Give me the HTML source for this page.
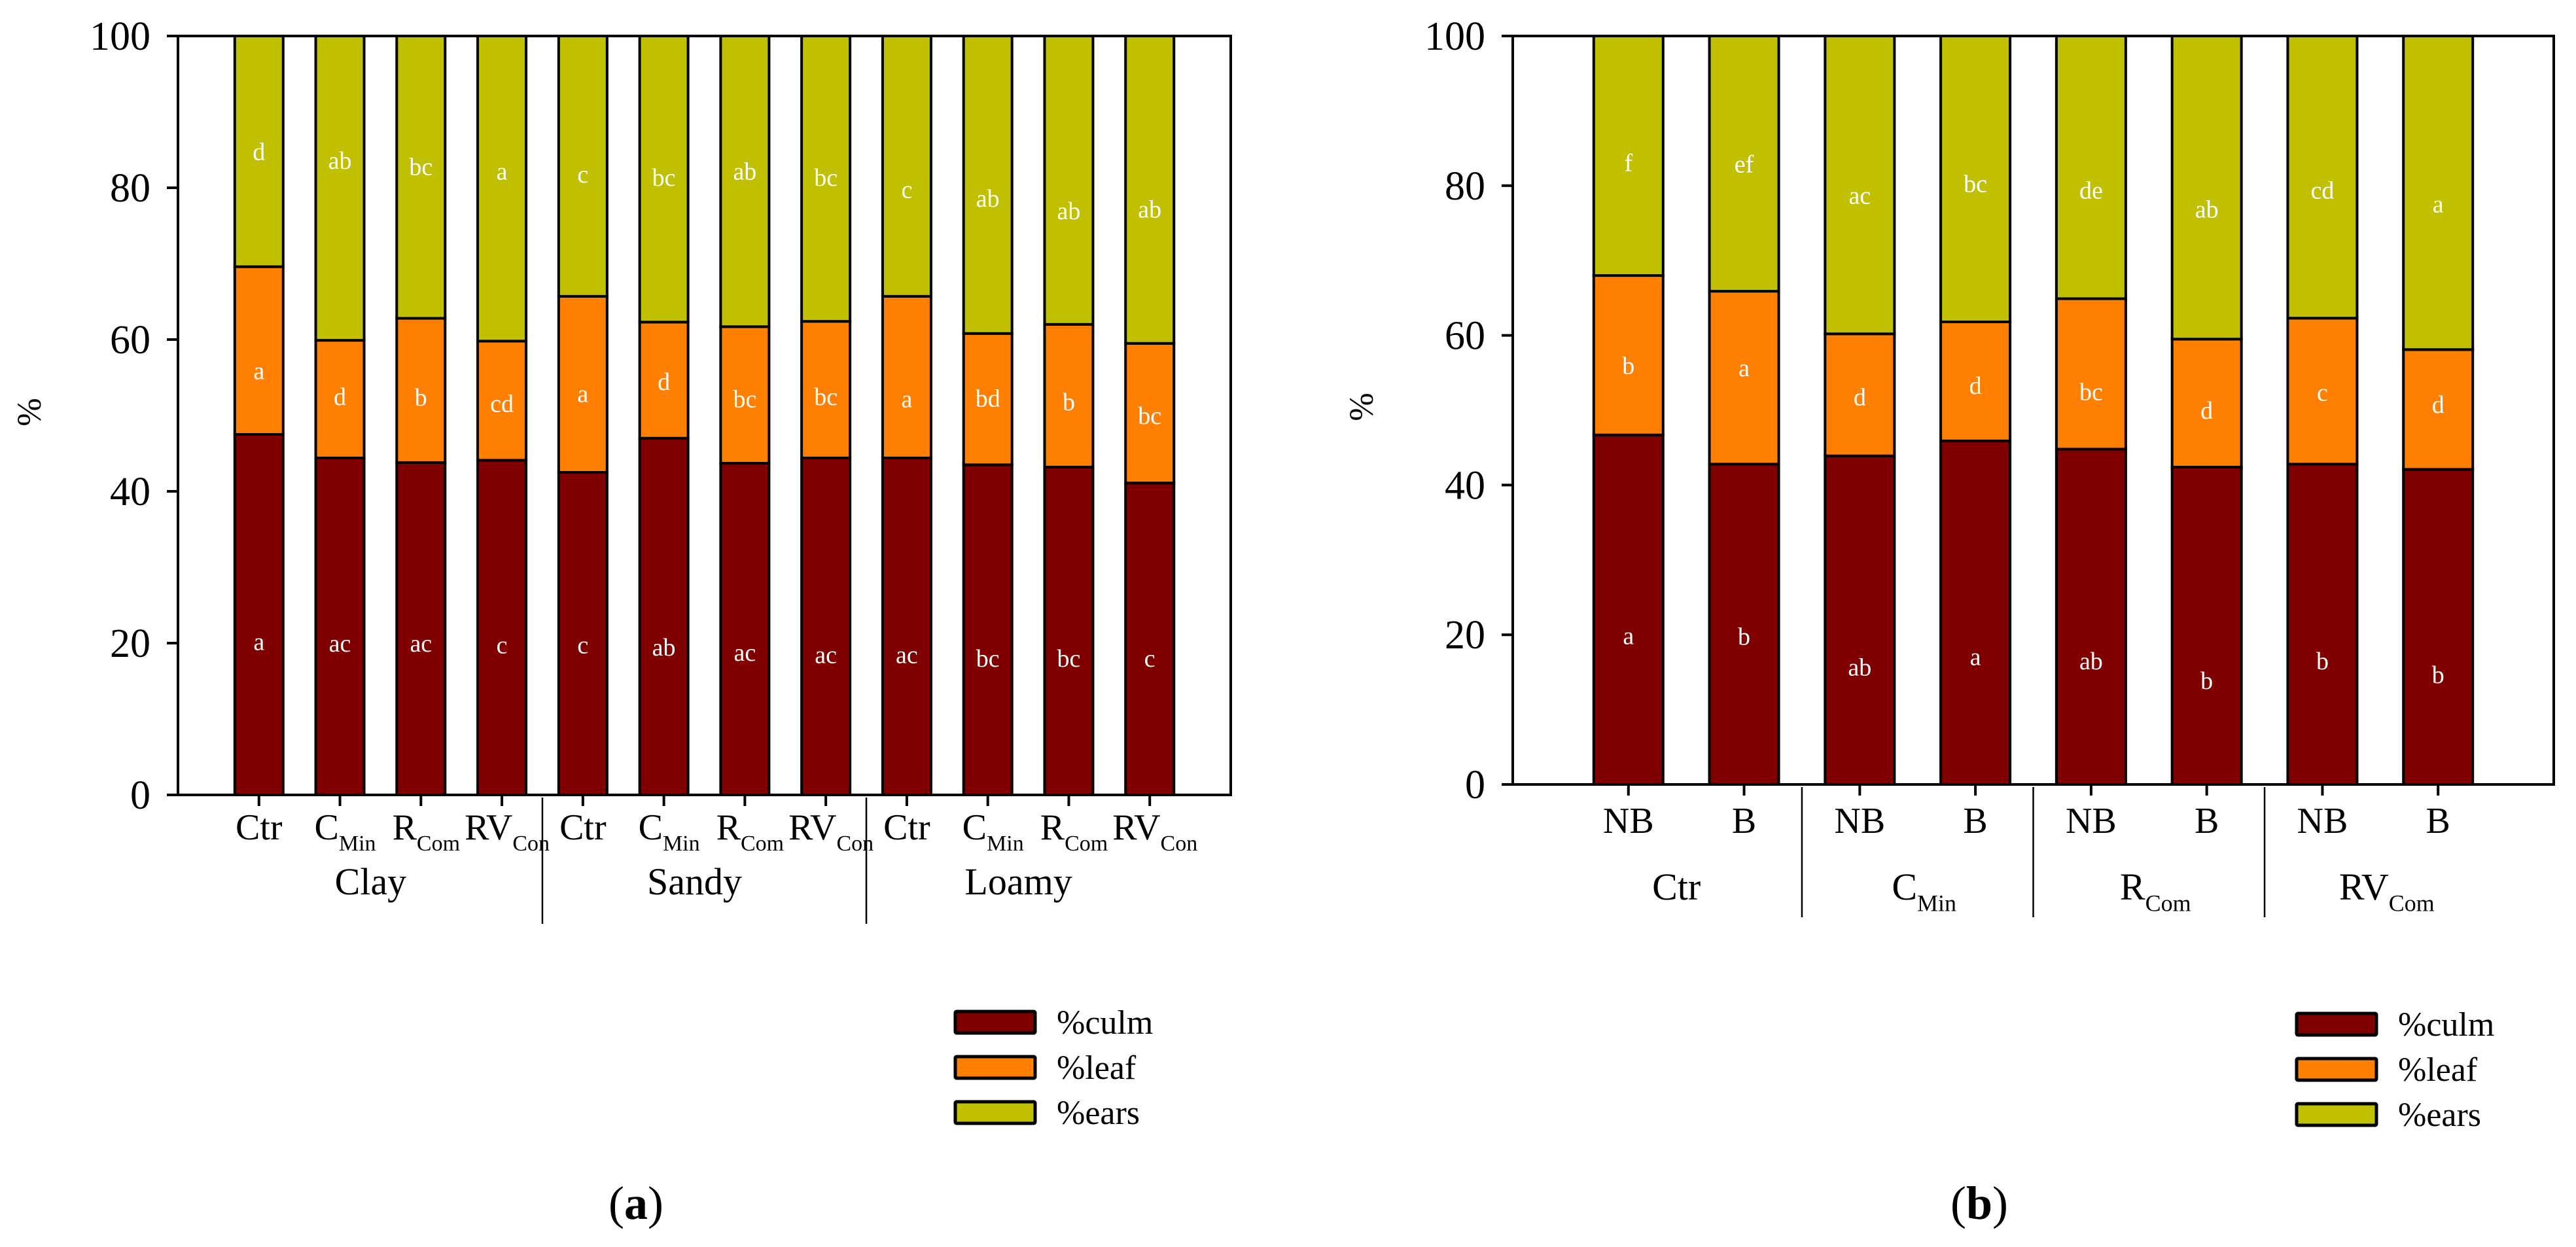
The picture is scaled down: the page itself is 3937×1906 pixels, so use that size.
<!DOCTYPE html>
<html><head><meta charset="utf-8"><style>
html,body{margin:0;padding:0;background:#fff;}
svg{display:block;font-family:"Liberation Serif",serif;}
</style></head><body>
<svg id="chart" width="3937" height="1906" viewBox="0 0 3937 1906" xmlns="http://www.w3.org/2000/svg"></svg>
<script>
// ---- Panel (a) data ----
const aCategories = ["Ctr","CMin","RCom","RVCon","Ctr","CMin","RCom","RVCon","Ctr","CMin","RCom","RVCon"];
const aGroups = ["Clay","Sandy","Loamy"];
const aCulm = [47.5,44.4,43.8,44.1,42.5,47.0,43.7,44.4,44.4,43.5,43.2,41.1];
const aLeaf = [22.1,15.5,19.0,15.7,23.2,15.3,18.0,18.0,21.3,17.3,18.8,18.4];
const aCulmLetters = ["a","ac","ac","c","c","ab","ac","ac","ac","bc","bc","c"];
const aLeafLetters = ["a","d","b","cd","a","d","bc","bc","a","bd","b","bc"];
const aEarsLetters = ["d","ab","bc","a","c","bc","ab","bc","c","ab","ab","ab"];
const aCulmLabelAt = [20.2,20.0,20.0,19.8,19.8,19.5,18.8,18.5,18.5,18.0,18.0,18.0];
const aLeafLabelAt = [55.9,52.5,52.4,51.6,52.9,54.5,52.2,52.5,52.2,52.3,51.8,50.0];
const aEarsLabelAt = [84.8,83.6,82.8,82.2,81.8,81.4,82.2,81.4,79.8,78.6,77.0,77.2];
// ---- Panel (b) data ----
const bCategories = ["NB","B","NB","B","NB","B","NB","B"];
const bGroups = ["Ctr","CMin","RCom","RVCom"];
const bCulm = [46.7,42.8,43.9,45.9,44.8,42.4,42.8,42.1];
const bLeaf = [21.3,23.1,16.3,15.9,20.1,17.1,19.5,16.0];
const bCulmLetters = ["a","b","ab","a","ab","b","b","b"];
const bLeafLetters = ["b","a","d","d","bc","d","c","d"];
const bEarsLetters = ["f","ef","ac","bc","de","ab","cd","a"];
const bCulmLabelAt = [19.9,19.8,15.7,17.1,16.5,13.9,16.5,14.7];
const bLeafLabelAt = [56.0,55.7,51.8,53.3,52.5,50.0,52.4,50.8];
const bEarsLabelAt = [83.1,82.9,78.7,80.3,79.4,76.9,79.4,77.6];
const yTicks = [0,20,40,60,80,100];
const legendLabels = ["%culm","%leaf","%ears"];

const NS="http://www.w3.org/2000/svg";
const svg=document.getElementById('chart');
const COL={culm:"#800000",leaf:"#ff8000",ears:"#c0c000"};
function mk(tag,attrs,parent){const e=document.createElementNS(NS,tag);for(const k in attrs)e.setAttribute(k,attrs[k]);(parent||svg).appendChild(e);return e;}
function label(main,sub){return {main:main.replace(/(Min|Com|Con)$/,''),sub:(main.match(/(Min|Com|Con)$/)||[''])[0]};}
function txt(g,x,y,main,sub,size,subSize,anchor){
  const t=mk('text',{x:x,y:y,'font-size':size,'text-anchor':anchor||'middle',fill:'#000'},g);
  t.appendChild(document.createTextNode(main));
  if(sub){const ts=mk('tspan',{'font-size':subSize,dy:size*0.3},t);ts.textContent=sub;}
  return t;
}

function panel(cfg){
  const g=mk('g',{});
  
  
  const n=cfg.cats.length;
  const step=(cfg.right-cfg.left)/(n+1);
  const xs=i=>cfg.left+(i+1)*step;
  const ys=v=>cfg.bottom-(v/100)*(cfg.bottom-cfg.top);
  // bars
  for(let i=0;i<n;i++){
    const x=xs(i)-cfg.bw/2;
    const c=cfg.culm[i], l=cfg.leaf[i];
    const segs=[["culm",0,c],["leaf",c,c+l],["ears",c+l,100]];
    for(const [k,a,b] of segs){
      const r=mk('rect',{x:x,y:ys(b),width:cfg.bw,height:ys(a)-ys(b),fill:COL[k],stroke:'#000','stroke-width':4},g);
      
      
    }
    const L=[[cfg.culmL[i],cfg.culmAt[i]],[cfg.leafL[i],cfg.leafAt[i]],[cfg.earsL[i],cfg.earsAt[i]]];
    for(const [s,v] of L){
      const t=mk('text',{x:xs(i),y:ys(v)+13,'font-size':38,'text-anchor':'middle',fill:'#fff'},g);
      t.textContent=s;
      
      
    }
  }
  // frame
  const f=mk('rect',{x:cfg.left,y:cfg.top,width:cfg.right-cfg.left,height:cfg.bottom-cfg.top,fill:'none',stroke:'#000','stroke-width':4},g);
  
  
  // y ticks
  for(const v of yTicks){
    mk('line',{x1:cfg.left-17,x2:cfg.left,y1:ys(v),y2:ys(v),stroke:'#000','stroke-width':4},g);
    const t=mk('text',{x:cfg.left-42,y:ys(v)+21,'font-size':62,'text-anchor':'end'},g);
    t.textContent=v;
    
    
  }
  // x ticks
  for(let i=0;i<n;i++){
    mk('line',{x1:xs(i),x2:xs(i),y1:cfg.bottom,y2:cfg.bottom+17,stroke:'#000','stroke-width':4},g);
    const lb=label(cfg.cats[i]);
    const t=txt(g,xs(i)+(lb.sub?8:0),cfg.catY,lb.main,lb.sub,56,34);
    
    
  }
  // groups
  const per=n/cfg.groups.length;
  for(let gi=0;gi<cfg.groups.length;gi++){
    const cx=(xs(gi*per)+xs(gi*per+per-1))/2;
    const lb=label(cfg.groups[gi]);
    const t=txt(g,cx+(lb.sub?10:-15),cfg.groupY,lb.main,lb.sub,58,36);
    
    
    if(gi>0){
      const sx=(xs(gi*per-1)+xs(gi*per))/2;
      const s=mk('line',{x1:sx,x2:sx,y1:cfg.bottom+4,y2:cfg.sepEnd,stroke:'#000','stroke-width':2.5},g);
      
      
    }
  }
  // y title
  const yt=mk('text',{x:cfg.ytX,y:cfg.ytY,'font-size':52,'text-anchor':'middle',transform:`rotate(-90 ${cfg.ytX} ${cfg.ytY})`},g);
  yt.textContent='%';
  
  
  // legend
  const cols=["culm","leaf","ears"];
  for(let k=0;k<3;k++){
    const y=cfg.legY+k*69;
    const r=mk('rect',{x:cfg.legX,y:y,width:122,height:33,fill:COL[cols[k]],stroke:'#000','stroke-width':5,rx:2},g);
    
    
    const t=mk('text',{x:cfg.legX+155,y:y+34,'font-size':52},g);
    t.textContent=legendLabels[k];
    
    
  }
  // panel label
  const pl=mk('text',{x:cfg.plX,y:1863,'font-size':72,'text-anchor':'middle'},g);
  pl.appendChild(document.createTextNode('('));
  const b=mk('tspan',{'font-weight':'bold'},pl);b.textContent=cfg.plLetter;
  pl.appendChild(document.createTextNode(')'));
  
  
}

panel({name:'panel-a',cats:aCategories,groups:aGroups,culm:aCulm,leaf:aLeaf,
  culmL:aCulmLetters,leafL:aLeafLetters,earsL:aEarsLetters,culmAt:aCulmLabelAt,leafAt:aLeafLabelAt,earsAt:aEarsLabelAt,
  left:272,right:1881,top:55,bottom:1215,bw:74,catY:1283,groupY:1367,sepEnd:1412,ytX:62,ytY:630,
  legX:1460,legY:1546,plX:972,plLetter:'a'});
panel({name:'panel-b',cats:bCategories,groups:bGroups,culm:bCulm,leaf:bLeaf,
  culmL:bCulmLetters,leafL:bLeafLetters,earsL:bEarsLetters,culmAt:bCulmLabelAt,leafAt:bLeafLabelAt,earsAt:bEarsLabelAt,
  left:2312,right:3903,top:55,bottom:1199,bw:106,catY:1273,groupY:1375,sepEnd:1402,ytX:2098,ytY:622,
  legX:3510,legY:1549,plX:3025,plLetter:'b'});
</script>
</body></html>
